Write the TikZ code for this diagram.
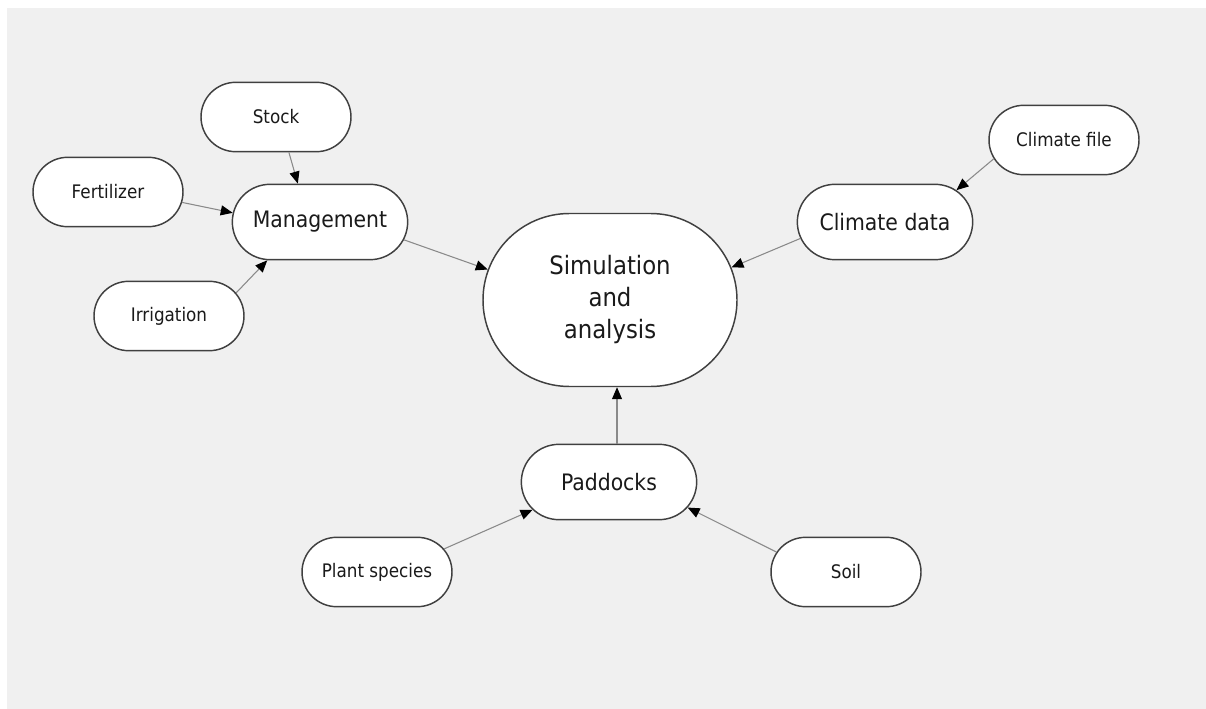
\documentclass[tikz,border=0pt]{standalone}
\usepackage{fontspec}
\setmainfont{DejaVu Sans Condensed}
\usetikzlibrary{shapes.misc,arrows.meta,calc}
\definecolor{bg}{HTML}{F0F0F0}
\definecolor{bord}{HTML}{404040}
\definecolor{connc}{HTML}{8A8A8A}
\definecolor{txt}{HTML}{1A1A1A}
\begin{document}
\begin{tikzpicture}[x=0.75pt,y=-0.75pt,
  box/.style={rounded rectangle, draw=bord, line width=1.1pt, fill=white,
    inner sep=0pt, text=txt, align=center},
  smallbox/.style={box, minimum width=112.5pt, minimum height=52pt,
    font=\fontsize{14}{17}\selectfont},
  midbox/.style={box, minimum width=131.5pt, minimum height=56.5pt,
    font=\fontsize{17}{20}\selectfont},
  bigbox/.style={box, minimum width=190.5pt, minimum height=129.75pt,
    font=\fontsize{19}{24}\selectfont},
  conn/.style={draw=connc, line width=0.8pt,
    -{Triangle[length=9pt,width=7.5pt,color=black]}}]
\useasboundingbox (0,0) rectangle (1206,709);
\fill[white] (0,0) rectangle (1206,709);
\fill[bg] (7,8) rectangle (1206,709);

\node[smallbox] (stock) at (276,117) {Stock};
\node[smallbox] (fert) at (108,192) {Fertilizer};
\node[midbox] (mgmt) at (320,222) {Management};
\node[smallbox] (irr) at (169,316) {Irrigation};
\node[bigbox] (sim) at (610,300) {Simulation\\and\\analysis};
\node[midbox] (cdata) at (885,222) {Climate data};
\node[smallbox] (cfile) at (1064,140) {Climate file};
\node[midbox] (padd) at (609,482) {Paddocks};
\node[smallbox] (plant) at (377,572) {Plant species};
\node[smallbox] (soil) at (846,572) {Soil};

\draw[conn] (stock.-70) -- (mgmt.120);
\draw[conn] (fert.-8) -- (mgmt.174);
\draw[conn] (irr.19) -- (mgmt.216);
\draw[conn] (mgmt.-12) -- (sim.166);
\draw[conn] (cfile.195) -- (cdata.24);
\draw[conn] (cdata.191) -- (sim.15.6);
\draw[conn] ($(padd.north)+(8,0)$) -- ($(sim.south)+(7,0)$);
\draw[conn] (plant.19) -- (padd.200);
\draw[conn] (soil.164) -- (padd.-18.6);
\end{tikzpicture}
\end{document}
